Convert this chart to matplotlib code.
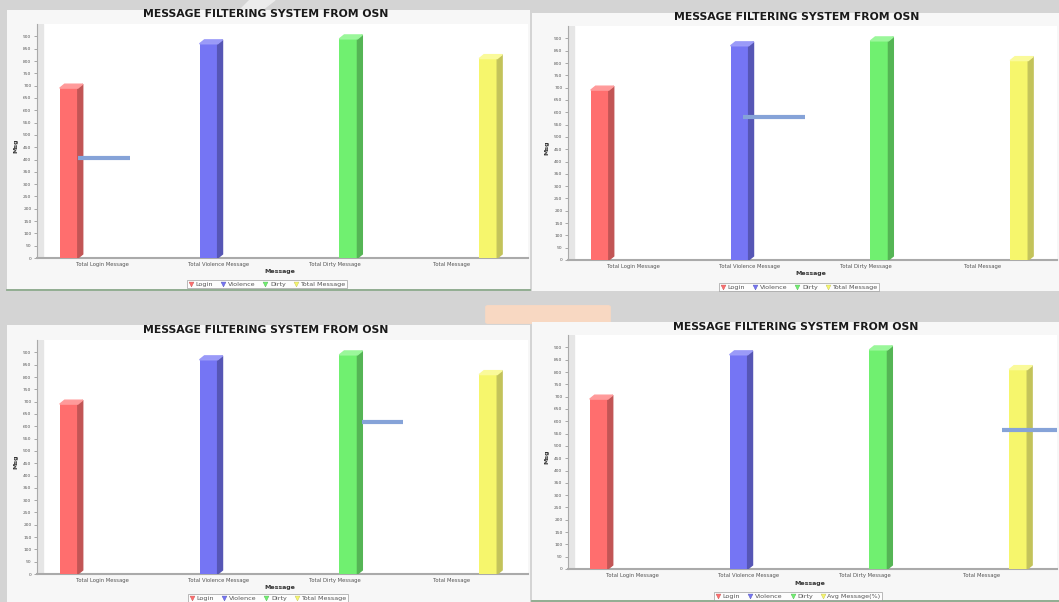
import matplotlib
matplotlib.use('Agg')
import matplotlib.pyplot as plt
from matplotlib.patches import Polygon, Rectangle, FancyBboxPatch
from matplotlib.lines import Line2D

# chart data (same chart captured four times, hover marker in a different place)
categories = ['Total Login Message', 'Total Violence Message', 'Total Dirty Message', 'Total Message']
series = ['Login', 'Violence', 'Dirty', 'Total Message']
values = [690, 870, 890, 810]
y_ticks = list(range(0, 901, 50))
last_legend = ['Total Message', 'Total Message', 'Total Message', 'Avg Message(%)']
cursor_y = [405, 582, 616, 566]
cursor_x = [(-0.21, 0.24), (0.94, 1.48), (2.23, 2.58), (3.18, 3.70)]

front = ['#ff6e6e', '#7575f4', '#70f070', '#f6f66c']
side = ['#c25555', '#5656b5', '#55b555', '#c3c35a']
top = ['#ff9a9a', '#9a9af8', '#9af79a', '#fafa9a']

W, H = 1059, 602
fig = plt.figure(figsize=(W / 100, H / 100), dpi=100, facecolor='#d4d4d4')


def fx(px):
    return px / W


def fy(py):
    return 1 - py / H


# background bits of the page
fig.patches.append(Polygon([[fx(250), fy(0)], [fx(275), fy(0)], [fx(262), fy(10)], [fx(240), fy(10)]],
                           closed=True, transform=fig.transFigure, color='#ececec', zorder=-2))
fig.patches.append(FancyBboxPatch((fx(488), fy(322)), fx(120), fy(307) - fy(322),
                                  boxstyle='round,pad=0.002', transform=fig.transFigure,
                                  color='#f8d8c2', zorder=-2))

# panel: box (x0, y0, x1, y1), axes left px, zero px, category-0 centre px, title y, cat label y,
#        xlabel y, legend y, legend centre x, ylabel x
panels = [
    ((7, 10, 530, 291), 37, 258, 102, 14, 263, 271, 284, 267, 16),
    ((532, 13, 1059, 291), 568, 260, 633, 17, 266, 274, 287, 799, 547),
    ((7, 325, 530, 602), 37, 574, 102, 330, 578, 587, 598, 268, 16),
    ((532, 322, 1059, 602), 568, 569, 632, 327, 575, 583, 596, 798, 547),
]
scale = 0.2462   # px per unit
spacing = 116.5  # px per category
ymax = 950

for k, (box, left, zero, c0, ty, cy, xly, ly, lx, ylx) in enumerate(panels):
    x0, y0, x1, y1 = box
    fig.patches.append(Rectangle((fx(x0), fy(y1)), fx(x1 - x0), fy(y0) - fy(y1),
                                 transform=fig.transFigure, facecolor='#f7f7f7', edgecolor='none', zorder=-1))
    if k in (0, 3):
        fig.lines.append(Line2D([fx(x0), fx(x1)], [fy(y1 - 1)] * 2, transform=fig.transFigure,
                                color='#7fa07f', lw=1.2))

    right = x1 - 2
    top_px = zero - ymax * scale
    ax = fig.add_axes([fx(left), fy(zero), fx(right - left), fy(top_px) - fy(zero)])
    ax.set_facecolor('white')
    ax.set_xlim((left - c0) / spacing, (right - c0) / spacing)
    ax.set_ylim(0, ymax)

    # left wall of the 3D plot
    xl = ax.get_xlim()[0]
    ax.axvspan(xl, xl + 0.05, color='#e6e6e6', zorder=0)

    slot = 0.2
    wf = 0.155
    dx, dy = 0.042, 16
    for i, v in enumerate(values):
        xc = i + (i - 1.5) * slot + 0.015
        xa = xc - wf / 2
        ax.bar(xc, v, width=wf, color=front[i], edgecolor='none', zorder=3)
        ax.add_patch(Polygon([[xa + wf, 0], [xa + wf + dx, dy], [xa + wf + dx, v + dy], [xa + wf, v]],
                             closed=True, color=side[i], zorder=3))
        ax.add_patch(Polygon([[xa, v], [xa + dx, v + dy], [xa + wf + dx, v + dy], [xa + wf, v]],
                             closed=True, color=top[i], zorder=3))

    # hover marker
    ax.plot(cursor_x[k], [cursor_y[k]] * 2, color='#86a3d8', lw=3, solid_capstyle='butt', zorder=4)

    ax.set_yticks(y_ticks)
    ax.set_yticklabels([str(t) for t in y_ticks], fontsize=3.2, color='#555555')
    ax.set_xticks(range(len(categories)))
    ax.set_xticklabels(categories, fontsize=3.8, color='#555555')
    ax.tick_params(axis='y', length=2, width=0.5, pad=2, colors='#888888', labelcolor='#555555')
    ax.tick_params(axis='x', length=0, pad=3, labelcolor='#555555')
    for s in ['top', 'right']:
        ax.spines[s].set_visible(False)
    ax.spines['left'].set_color('#aaaaaa')
    ax.spines['bottom'].set_color('#aaaaaa')
    ax.spines['bottom'].set_linewidth(1.5)

    fig.text(fx(c0 + 164), fy(ty), 'MESSAGE FILTERING SYSTEM FROM OSN',
             ha='center', va='center', fontsize=7.8, fontweight='bold', color='#1a1a1a')
    fig.text(fx(c0 + 178), fy(xly), 'Message', ha='center', va='center',
             fontsize=4.5, fontweight='bold', color='#333333')
    fig.text(fx(ylx), fy((zero + top_px) / 2 + 5), 'Msg', ha='center', va='center', rotation=90,
             fontsize=4.5, fontweight='bold', color='#333333')

    labels = series[:3] + [last_legend[k]]
    handles = [plt.Line2D([], [], marker='v', ls='', color=front[i], markersize=3.5,
                          markeredgecolor=side[i], markeredgewidth=0.3) for i in range(4)]
    fig.legend(handles, labels, loc='center', bbox_to_anchor=(fx(lx), fy(ly)), ncol=4,
               fontsize=4.6, frameon=True, fancybox=False, edgecolor='#888888',
               handlelength=0.8, handletextpad=0.3, columnspacing=1.2, borderpad=0.25,
               labelcolor='#555555').get_frame().set_linewidth(0.5)

fig.savefig('out.png', dpi=100, facecolor=fig.get_facecolor())
